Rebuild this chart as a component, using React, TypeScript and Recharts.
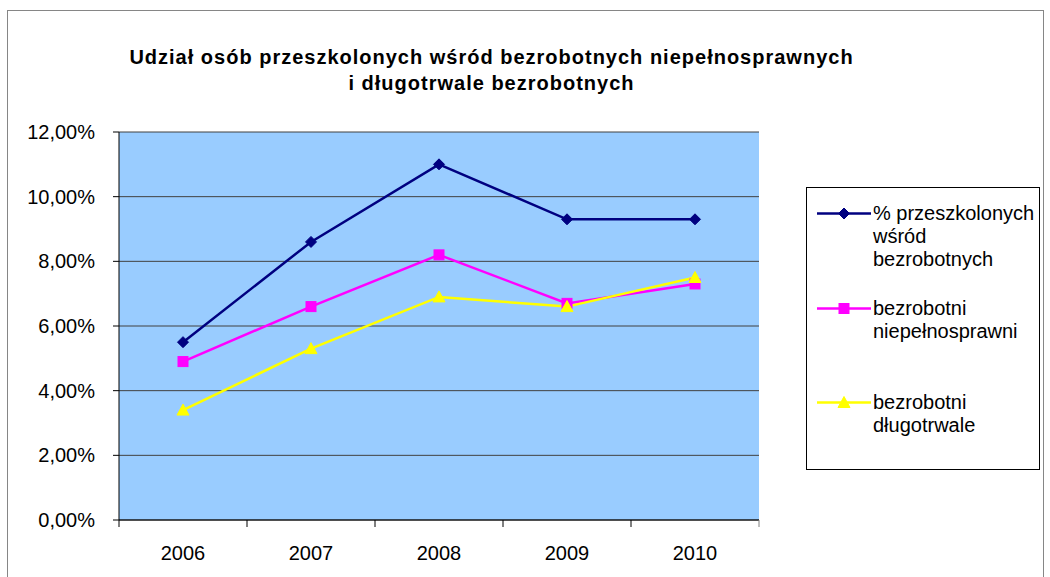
import { LineChart, Line, XAxis, YAxis, CartesianGrid, Legend } from "recharts";

const years = ["2006", "2007", "2008", "2009", "2010"];
const przeszkoleni = [5.5, 8.6, 11.0, 9.3, 9.3];
const niepelnosprawni = [4.9, 6.6, 8.2, 6.7, 7.3];
const dlugotrwale = [3.4, 5.3, 6.9, 6.6, 7.5];
const yTicks = [0, 2, 4, 6, 8, 10, 12];

const titleLines = [
  "Udział osób przeszkolonych wśród bezrobotnych niepełnosprawnych",
  "i długotrwale bezrobotnych",
];
const seriesNames = [
  "% przeszkolonych wśród bezrobotnych",
  "bezrobotni niepełnosprawni",
  "bezrobotni długotrwale",
];
const legendLines = [
  ["% przeszkolonych", "wśród", "bezrobotnych"],
  ["bezrobotni", "niepełnosprawni"],
  ["bezrobotni", "długotrwale"],
];

const data = years.map((year, i) => ({
  year,
  przeszkoleni: przeszkoleni[i],
  niepelnosprawni: niepelnosprawni[i],
  dlugotrwale: dlugotrwale[i],
}));

const FONT = '"Liberation Sans", Arial, sans-serif';
const KEYS = ["przeszkoleni", "niepelnosprawni", "dlugotrwale"];
const COLORS = ["#000080", "#ff00ff", "#ffff00"];
const SHAPES = ["diamond", "square", "triangle"];
const LEGEND_TOPS = [14, 109, 203];
const HALF_BAND = 64;

function Marker({ shape, cx, cy, color }: { shape: string; cx: number; cy: number; color: string }) {
  if (shape === "diamond") {
    return <path d={`M${cx},${cy - 5.5}L${cx + 5.5},${cy}L${cx},${cy + 5.5}L${cx - 5.5},${cy}Z`} fill={color} stroke={color} />;
  }
  if (shape === "square") {
    return <rect x={cx - 5} y={cy - 5} width={10} height={10} fill={color} stroke={color} />;
  }
  return <path d={`M${cx},${cy - 6}L${cx + 6},${cy + 5}L${cx - 6},${cy + 5}Z`} fill={color} stroke={color} />;
}

function YearTick(props: any) {
  const { x, y, payload, index } = props;
  return (
    <g>
      <line x1={x - HALF_BAND} x2={x - HALF_BAND} y1={y} y2={y + 7} stroke="#000" />
      {index === years.length - 1 && (
        <line x1={x + HALF_BAND} x2={x + HALF_BAND} y1={y} y2={y + 7} stroke="#808080" />
      )}
      <text x={x} y={y + 40} textAnchor="middle" fontSize={20} fontFamily={FONT} fill="#000">
        {payload.value}
      </text>
    </g>
  );
}

function LegendBox() {
  return (
    <div
      style={{
        position: "relative",
        width: 234,
        height: 283,
        boxSizing: "border-box",
        border: "1px solid #000",
        background: "#fff",
        fontFamily: FONT,
        fontSize: 20,
        color: "#000",
      }}
    >
      {seriesNames.map((name, i) => (
        <div key={name} style={{ position: "absolute", left: 0, top: LEGEND_TOPS[i], width: "100%" }}>
          <svg width={60} height={23} style={{ position: "absolute", left: 9, top: 0 }}>
            <line x1={1} x2={55} y1={11.5} y2={11.5} stroke={COLORS[i]} strokeWidth={2.5} />
            <Marker shape={SHAPES[i]} cx={28} cy={11.5} color={COLORS[i]} />
          </svg>
          <div style={{ position: "absolute", left: 66, top: 0, lineHeight: "23px", whiteSpace: "nowrap" }}>
            {legendLines[i].map((l) => (
              <div key={l}>{l}</div>
            ))}
          </div>
        </div>
      ))}
    </div>
  );
}

const fmt = (v: number) => `${v.toFixed(2).replace(".", ",")}%`;

export default function App() {
  return (
    <div style={{ position: "absolute", left: 0, top: 0, width: 1050, height: 577, overflow: "hidden", background: "#fff" }}>
      <div
        style={{
          position: "absolute",
          left: 7,
          top: 10,
          width: 1037,
          height: 620,
          border: "1px solid #868686",
          boxSizing: "border-box",
        }}
      />
      <div
        style={{
          position: "absolute",
          left: 0,
          top: 44,
          width: 983,
          textAlign: "center",
          fontFamily: FONT,
          fontWeight: "bold",
          fontSize: 20,
          letterSpacing: 1,
          lineHeight: "26px",
          color: "#000",
        }}
      >
        {titleLines.map((t) => (
          <div key={t}>{t}</div>
        ))}
      </div>
      <div style={{ position: "absolute", left: 0, top: 0 }}>
        <LineChart width={1050} height={577} data={data} margin={{ top: 132, right: 291, bottom: 17, left: 39 }}>
          <CartesianGrid vertical={false} fill="#99ccff" stroke="#404040" fillOpacity={1} />
          <XAxis
            dataKey="year"
            height={40}
            padding={{ left: HALF_BAND, right: HALF_BAND }}
            tickSize={0}
            tickMargin={0}
            tickLine={false}
            axisLine={{ stroke: "#000" }}
            tick={<YearTick />}
            interval={0}
          />
          <XAxis
            xAxisId="top"
            dataKey="year"
            orientation="top"
            height={0}
            padding={{ left: HALF_BAND, right: HALF_BAND }}
            tick={false}
            tickLine={false}
            axisLine={{ stroke: "#808080", strokeWidth: 2 }}
          />
          <YAxis
            domain={[0, 12]}
            ticks={yTicks}
            interval={0}
            tickFormatter={fmt}
            width={80}
            tickSize={6}
            tickMargin={18}
            tick={{ fontSize: 20, fill: "#000", fontFamily: FONT }}
            axisLine={{ stroke: "#000" }}
            tickLine={{ stroke: "#000" }}
          />
          <YAxis
            yAxisId="right"
            orientation="right"
            domain={[0, 12]}
            width={0}
            tick={false}
            tickLine={false}
            axisLine={{ stroke: "#808080", strokeWidth: 2 }}
          />
          {KEYS.map((k, i) => (
            <Line
              key={k}
              dataKey={k}
              name={seriesNames[i]}
              stroke={COLORS[i]}
              strokeWidth={2.5}
              isAnimationActive={false}
              dot={(p: any) => <Marker key={`${k}-${p.index}`} shape={SHAPES[i]} cx={p.cx} cy={p.cy} color={COLORS[i]} />}
              activeDot={false}
            />
          ))}
          <Legend
            layout="vertical"
            align="center"
            verticalAlign="middle"
            content={() => <LegendBox />}
            wrapperStyle={{ left: 806, top: 187, width: 234, height: 283 }}
          />
        </LineChart>
      </div>
    </div>
  );
}
